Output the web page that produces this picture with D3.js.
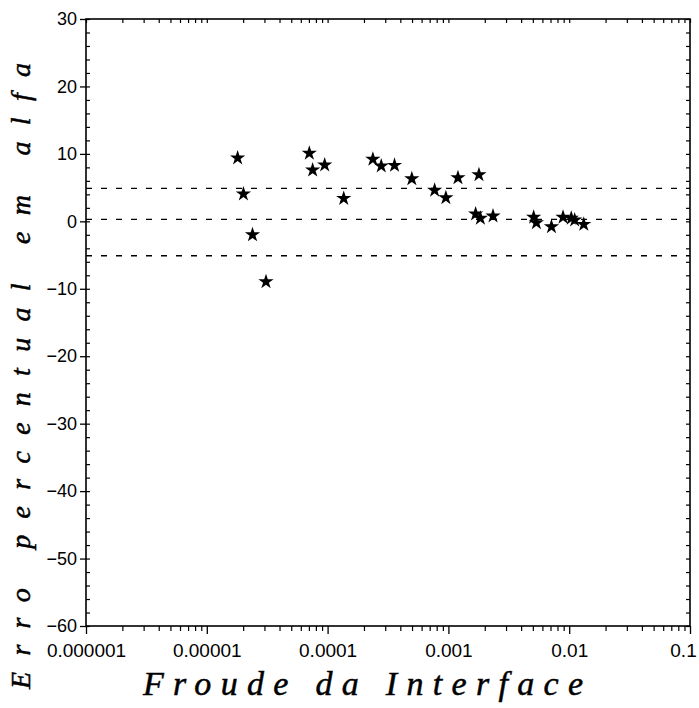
<!DOCTYPE html>
<html>
<head>
<meta charset="utf-8">
<script src="https://cdn.jsdelivr.net/npm/d3@7"></script>
<style>
  html, body { margin: 0; padding: 0; background: #fff; }
  svg { display: block; }
</style>
</head>
<body>
<svg id="chart" width="699" height="708"></svg>
<script>
// ---- data ----
const froude = [1.80e-5, 2.01e-5, 2.39e-5, 3.09e-5, 7.06e-5, 7.52e-5, 9.46e-5, 1.36e-4,
  2.37e-4, 2.78e-4, 3.58e-4, 4.98e-4, 7.69e-4, 9.53e-4, 1.20e-3, 1.79e-3, 1.68e-3,
  1.84e-3, 2.34e-3, 5.08e-3, 5.35e-3, 7.13e-3, 8.89e-3, 1.04e-2, 1.11e-2, 1.32e-2];
const erroAlfa = [9.4, 4.05, -2.0, -8.95, 10.1, 7.6, 8.35, 3.4,
  9.2, 8.2, 8.3, 6.3, 4.6, 3.5, 6.45, 6.9, 1.1,
  0.45, 0.8, 0.6, -0.2, -0.8, 0.6, 0.45, 0.2, -0.45];
const refLines = [4.9, 0.3, -5.1];
const xTickValues = [1e-6, 1e-5, 1e-4, 1e-3, 1e-2, 1e-1];
const xTickLabels = ["0.000001", "0.00001", "0.0001", "0.001", "0.01", "0.1"];
const yTickValues = [30, 20, 10, 0, -10, -20, -30, -40, -50, -60];
const yTickLabels = ["30", "20", "10", "0", "\u221210", "\u221220", "\u221230", "\u221240", "\u221250", "\u221260"];
const xTitle = "Froude da Interface";
const yTitle = "Erro percentual em alfa";

// ---- layout ----
const svg = d3.select("#chart");
const L = 86, R = 690, T = 19, B = 626;
const x = d3.scaleLog().domain([1e-6, 0.1]).range([L, R]);
const y = d3.scaleLinear().domain([-60, 30]).range([B, T]);

// minor tick values
const xMinor = [];
for (let e = -6; e < -1; e++) for (let k = 2; k <= 9; k++) xMinor.push(k * Math.pow(10, e));
const yMinor = d3.range(-60, 31, 2).filter(v => v % 10 !== 0);

const g = svg.append("g");

// dashed reference lines
g.selectAll("line.ref").data(refLines).join("line")
  .attr("x1", L).attr("x2", R)
  .attr("y1", d => y(d)).attr("y2", d => y(d))
  .attr("stroke", "#000").attr("stroke-width", 1.3)
  .attr("stroke-dasharray", "6,9");

// frame
g.append("rect").attr("x", L).attr("y", T).attr("width", R - L).attr("height", B - T)
  .attr("fill", "none").attr("stroke", "#000").attr("stroke-width", 1.6);

// axes via d3 axis generators
const axB = d3.axisBottom(x).tickValues(xTickValues).tickSize(8)
  .tickFormat((d, i) => xTickLabels[i]);
const gB = g.append("g").attr("transform", `translate(0,${B})`).call(axB);
gB.select(".domain").remove();
gB.selectAll("text").attr("font-family", "Liberation Sans, Arial, sans-serif")
  .attr("font-size", 19).attr("fill", "#000").attr("dy", "1.05em")
  .attr("dx", (d, i) => i === xTickValues.length - 1 ? -7 : 0);
gB.selectAll("line").attr("stroke-width", 1.3);

const axBm = d3.axisBottom(x).tickValues(xMinor).tickSize(5).tickFormat("");
const gBm = g.append("g").attr("transform", `translate(0,${B})`).call(axBm);
gBm.select(".domain").remove();
gBm.selectAll("line").attr("stroke-width", 1.2);

// top inward ticks
const axT = d3.axisBottom(x).tickValues(xMinor.concat(xTickValues)).tickSize(4).tickFormat("");
const gT = g.append("g").attr("transform", `translate(0,${T})`).call(axT);
gT.select(".domain").remove();
gT.selectAll("line").attr("stroke-width", 1.2);

// left axis
const axL = d3.axisLeft(y).tickValues(yTickValues).tickSize(6).tickPadding(3)
  .tickFormat((d, i) => yTickLabels[i]);
const gL = g.append("g").attr("transform", `translate(${L},0)`).call(axL);
gL.select(".domain").remove();
gL.selectAll("text").attr("font-family", "Liberation Sans, Arial, sans-serif")
  .attr("font-size", 18).attr("fill", "#000");
gL.selectAll("line").attr("stroke-width", 1.3);

const axLin = d3.axisRight(y).tickValues(yMinor.concat(yTickValues)).tickSize(4).tickFormat("");
const gLin = g.append("g").attr("transform", `translate(${L},0)`).call(axLin);
gLin.select(".domain").remove();
gLin.selectAll("line").attr("stroke-width", 1.2);

// right inward ticks
const axR = d3.axisLeft(y).tickValues(yMinor.concat(yTickValues)).tickSize(4).tickFormat("");
const gR = g.append("g").attr("transform", `translate(${R},0)`).call(axR);
gR.select(".domain").remove();
gR.selectAll("line").attr("stroke-width", 1.2);

// points (stars)
const pts = froude.map((f, i) => ({ f, e: erroAlfa[i] }));
g.selectAll("path.pt").data(pts).join("path")
  .attr("class", "pt")
  .attr("transform", d => `translate(${x(d.f)},${y(d.e)})`)
  .attr("d", d3.symbol(d3.symbolStar, 72)())
  .attr("fill", "#000");

// titles
svg.append("text")
  .attr("x", 363).attr("y", 695)
  .attr("text-anchor", "middle")
  .attr("font-family", "Liberation Serif, 'DejaVu Serif', serif")
  .attr("font-style", "italic").attr("font-size", 34)
  .attr("stroke", "#000").attr("stroke-width", 0.5)
  .attr("textLength", 440).attr("lengthAdjust", "spacing")
  .attr("fill", "#000")
  .text(xTitle);

svg.append("text")
  .attr("transform", "translate(30,376) rotate(-90)")
  .attr("text-anchor", "middle")
  .attr("font-family", "Liberation Serif, 'DejaVu Serif', serif")
  .attr("font-style", "italic").attr("font-size", 28)
  .attr("stroke", "#000").attr("stroke-width", 0.5)
  .attr("textLength", 626).attr("lengthAdjust", "spacing")
  .attr("fill", "#000")
  .text(yTitle);
</script>
</body>
</html>
